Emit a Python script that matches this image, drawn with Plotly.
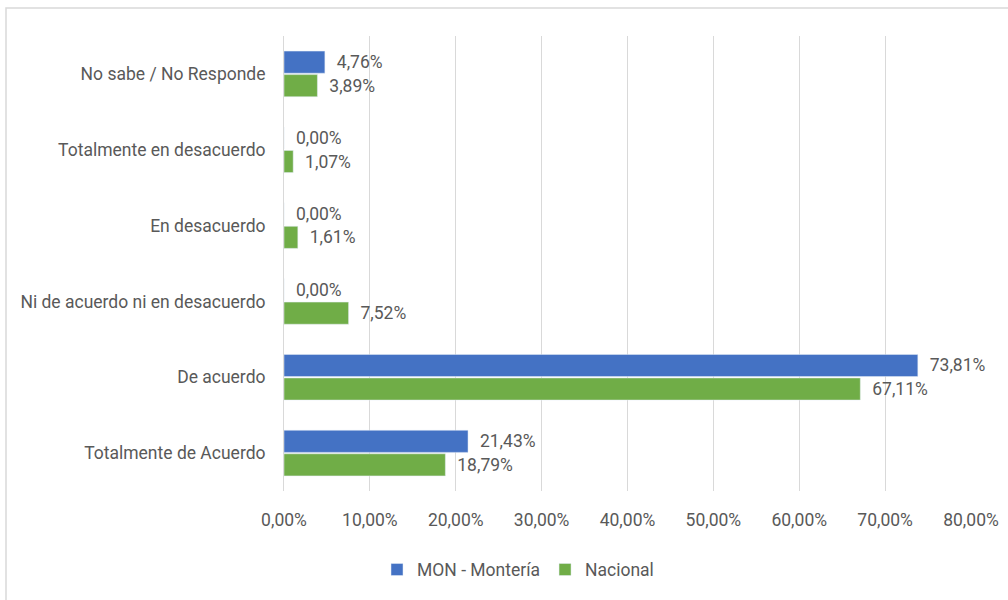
import plotly.graph_objects as go

# categorias (de abajo hacia arriba)
categorias = ["Totalmente de Acuerdo", "De acuerdo", "Ni de acuerdo ni en desacuerdo",
              "En desacuerdo", "Totalmente en desacuerdo", "No sabe / No Responde"]
monteria = [21.43, 73.81, 0.00, 0.00, 0.00, 4.76]
nacional = [18.79, 67.11, 7.52, 1.61, 1.07, 3.89]

def etiqueta(v):
    return "\u2002" + f"{v:.2f}%".replace(".", ",")

fuente = "Liberation Sans Narrow, Roboto, Arial"
gris = "#595959"

fig = go.Figure()
# Nacional primero para que quede debajo dentro del grupo
fig.add_trace(go.Bar(
    y=categorias, x=[v / 100 for v in nacional], orientation="h", name="Nacional",
    marker=dict(color="#70AD47"),
    text=[etiqueta(v) for v in nacional], textposition="outside",
    textfont=dict(size=17.5, color=gris), cliponaxis=False,
))
fig.add_trace(go.Bar(
    y=categorias, x=[v / 100 for v in monteria], orientation="h", name="MON - Montería",
    marker=dict(color="#4472C4"),
    text=[etiqueta(v) for v in monteria], textposition="outside",
    textfont=dict(size=17.5, color=gris), cliponaxis=False,
))

l, r, t, b = 284, 37, 36, 107
w, h = 1008 - l - r, 600 - t - b

fig.update_layout(
    width=1008, height=600,
    margin=dict(l=l, r=r, t=t, b=b),
    plot_bgcolor="white", paper_bgcolor="white",
    separators=",.",
    barmode="group", bargap=0.38, bargroupgap=0.06,
    font=dict(family=fuente, size=17.5, color=gris),
    legend=dict(orientation="h", x=(518 - l) / w, xanchor="center",
                y=-(572 - (600 - b)) / h, yanchor="middle",
                traceorder="reversed", font=dict(size=17.5, color=gris)),
    shapes=[dict(type="rect", xref="paper", yref="paper",
                 x0=(6 - l) / w, x1=(1012 - l) / w,
                 y0=-(604 - (600 - b)) / h, y1=(600 - b - 8) / h,
                 line=dict(color="#D9D9D9", width=1.5))],
)
fig.update_xaxes(range=[0, 0.8], dtick=0.1, tickformat=".2%", showgrid=True,
                 gridcolor="#D9D9D9", gridwidth=1, zeroline=False,
                 ticks="", ticklabelstandoff=16, automargin=False)
fig.update_yaxes(showgrid=False, ticks="", ticklabelstandoff=14, automargin=False,
                 showline=True, linecolor="#D9D9D9")

# quitar el margen del body para que la figura empiece en (0, 0)
fig.write_html("out.html", config={"displayModeBar": False},
               post_script="document.body.style.margin='0';")
